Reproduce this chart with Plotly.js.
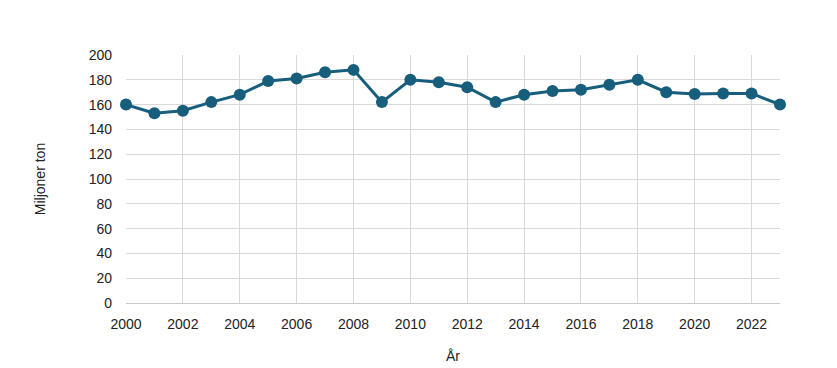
<!DOCTYPE html>
<html>
<head>
<meta charset="utf-8">
<script src="https://cdn.plot.ly/plotly-3.0.1.min.js"></script>
<style>html,body{margin:0;padding:0;background:#fff;}#chart{width:837px;height:368px;}</style>
</head>
<body>
<div id="chart"></div>
<script>
const years = [2000,2001,2002,2003,2004,2005,2006,2007,2008,2009,2010,2011,2012,2013,2014,2015,2016,2017,2018,2019,2020,2021,2022,2023];
const values = [160,153,155,162,168,179,181,186,188,162,180,178,174,162,168,171,172,176,180,170,168.5,169,169,160];
const xTicks = [2000,2002,2004,2006,2008,2010,2012,2014,2016,2018,2020,2022];
const yTicks = [0,20,40,60,80,100,120,140,160,180,200];

const color = '#175d7c';
Plotly.newPlot('chart', [{
  x: years, y: values, type: 'scatter', mode: 'lines+markers',
  line: {color: color, width: 3},
  marker: {color: color, size: 12},
  cliponaxis: false, hoverinfo: 'x+y'
}], {
  width: 837, height: 368,
  margin: {l: 126, r: 57, t: 55, b: 65},
  paper_bgcolor: '#fff', plot_bgcolor: '#fff',
  font: {family: 'Liberation Sans, Arial, sans-serif', size: 14, color: '#222'},
  showlegend: false,
  xaxis: {
    range: [2000, 2023], tickvals: xTicks, ticktext: xTicks.map(String),
    showgrid: true, gridcolor: '#d9d9d9', gridwidth: 1,
    showline: true, linecolor: '#c8c8c8', linewidth: 1,
    zeroline: false, ticks: '', ticklen: 0, ticklabelstandoff: 8,
    tickfont: {size: 14},
    title: {text: 'År', font: {size: 14}, standoff: 20}
  },
  yaxis: {
    range: [0, 200], tickvals: yTicks,
    showgrid: true, gridcolor: '#d9d9d9', gridwidth: 1,
    zeroline: false, showline: false, ticks: '', ticklabelstandoff: 13,
    tickfont: {size: 14},
    title: {text: 'Miljoner ton', font: {size: 14}, standoff: 39}
  }
}, {displayModeBar: false, staticPlot: true});
</script>
</body>
</html>
